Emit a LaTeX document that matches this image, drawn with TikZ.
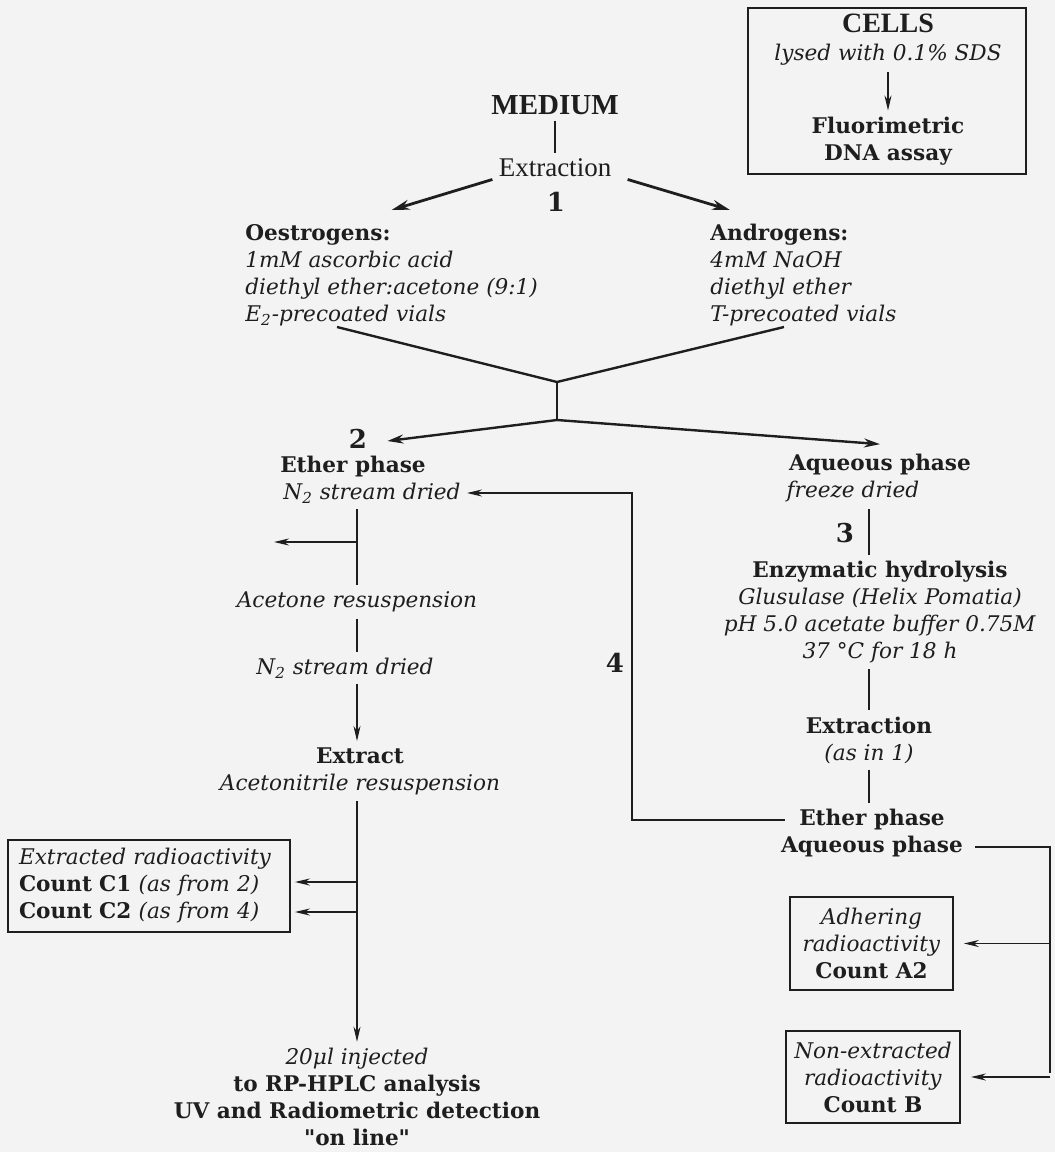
\documentclass[tikz,border=0pt]{standalone}
\usepackage{fontspec}
\setmainfont{DejaVu Serif}
\newfontfamily\timesfont{Liberation Serif}
\usetikzlibrary{arrows.meta,calc,positioning}
\definecolor{Paper}{HTML}{F3F3F3}
\definecolor{Ink}{HTML}{1E1E1E}
\newcommand\bodysize{\fontsize{10.8}{13.5}\selectfont}

\begin{document}
\begin{tikzpicture}[x=0.5pt,y=-0.5pt,
      every node/.style={font=\bodysize,text=Ink,inner sep=1pt},
      head/.style={font=\bodysize\bfseries},
      note/.style={font=\bodysize\itshape},
      stepnum/.style={font=\fontsize{13}{15}\selectfont\bfseries},
      box/.style={draw=Ink,line width=0.9pt,align=center,inner sep=1pt},
      link/.style={draw=Ink,line width=0.9pt,shorten <=2pt,shorten >=2pt},
      >={Stealth[length=7.5pt,width=3.5pt]}
    ]
      \fill[Paper] (0,0) rectangle (1055,1152);
      \useasboundingbox (0,0) rectangle (1055,1152);

      \node[box,minimum width=139pt,minimum height=83pt] (cellsbox) at (887,91) {};
      \node[font=\timesfont\bfseries\fontsize{14}{16}\selectfont] (cells) at (888,23) {CELLS};
      \node[note] (lysed) at (888,55) {lysed with 0.1\% SDS};
      \node[head,align=center] (fluor) at (888,141) {Fluorimetric\\DNA assay};
      \draw[link,->] (lysed.south) -- (fluor.north);

      \node[font=\timesfont\bfseries\fontsize{14.5}{16}\selectfont] (medium) at (555,105) {MEDIUM};
      \node[font=\timesfont\fontsize{13.5}{16}\selectfont] (extrA) at (555,168) {Extraction};
      \node[stepnum] (one) at (556,202) {1};
      \draw[link] (medium) -- (extrA);

      \node[align=left,anchor=north west] (oestro) at (243,222)
        {\textbf{Oestrogens:}\\\textit{1mM ascorbic acid}\\
         \textit{diethyl ether:acetone (9:1)}\\\textit{E\textsubscript{2}-precoated vials}};
      \node[align=left,anchor=north west] (andro) at (708,222)
        {\textbf{Androgens:}\\\textit{4mM NaOH}\\
         \textit{diethyl ether}\\\textit{T-precoated vials}};
      \draw[->,line width=1.4pt,Ink,>={Stealth[length=9pt,width=5pt]}]
        ([xshift=-2pt]extrA.south west) -- ([yshift=6pt]oestro.north);
      \draw[->,line width=1.4pt,Ink,>={Stealth[length=9pt,width=5pt]}]
        ([xshift=7pt]extrA.south east) -- ([xshift=11pt,yshift=6pt]andro.north west);

      \coordinate (yl) at (337,327);
      \coordinate (yr) at (784,327);
      \coordinate (junc) at (557,382);
      \coordinate (split) at (557,420);
      \draw[line width=1.2pt,Ink] (yl) -- (junc) -- (yr);
      \draw[line width=1.2pt,Ink] (junc) -- (split);

      \node[stepnum] (two) at (358,439) {2};
      \node[head] (eth1) at (353,467) {Ether phase};
      \node[note] (n2a) at (372,493) {N\textsubscript{2} stream dried};
      \node[head] (aq1) at (880,465) {Aqueous phase};
      \node[note] (freeze) at (853,492) {freeze dried};
      \draw[->,line width=1.2pt,Ink,>={Stealth[length=8pt,width=4.5pt]}]
        (split) -- ([xshift=9pt,yshift=-1pt]two.east);
      \draw[->,line width=1.2pt,Ink,>={Stealth[length=8pt,width=4.5pt]}]
        (split) -- ([yshift=4pt]aq1.north);

      \node[note] (acet) at (357,602) {Acetone resuspension};
      \node[note] (n2b) at (345,668) {N\textsubscript{2} stream dried};
      \node[align=center] (extract) at (360,771)
        {\textbf{Extract}\\\textit{Acetonitrile resuspension}};
      \node[align=center] (inject) at (357,1097)
        {\textit{20μl injected}\\\textbf{to RP-HPLC analysis}\\
         \textbf{UV and Radiometric detection}\\\textbf{\textquotedbl on line\textquotedbl}};
      \node[box,align=left,text width=130pt,inner xsep=5.5pt,
            minimum height=46pt] (counts) at (149,886)
        {\textit{Extracted radioactivity}\\\textbf{Count C1} \textit{(as from 2)}\\
         \textbf{Count C2} \textit{(as from 4)}};

      \coordinate (lost) at (270,542);
      \draw[link] (n2a.south -| acet) -- (acet.north);
      \draw[link,->,shorten <=0pt] (lost -| acet) -- (lost);
      \draw[link] (acet.south) -- (n2b.north -| acet);
      \draw[link,->] (n2b.south -| acet) -- (extract.north -| acet);
      \draw[link,->] (extract.south -| acet) -- (inject.north -| acet);
      \foreach \yy in {882,912}
        \draw[link,->,shorten <=0pt] (acet |- 0,\yy) -- (counts.east |- 0,\yy);

      \node[align=center] (enzy) at (880,612)
        {\textbf{Enzymatic hydrolysis}\\\textit{Glusulase (Helix Pomatia)}\\
         \textit{pH 5.0 acetate buffer 0.75M}\\\textit{37 °C for 18 h}};
      \node[align=center] (extrB) at (869,740) {\textbf{Extraction}\\\textit{(as in 1)}};
      \node[stepnum] (three) at (845,533) {3};
      \node[head] (eth2) at (872,820) {Ether phase};
      \node[head] (aq2) at (872,847) {Aqueous phase};
      \node[stepnum] (four) at (615,663) {4};
      \draw[link] (freeze.south -| extrB) -- (enzy.north -| extrB);
      \draw[link] (enzy.south -| extrB) -- (extrB.north);
      \draw[link] (extrB.south) -- (eth2.north -| extrB);

      \coordinate (ret) at (632,0);
      \draw[link,->] ([xshift=-4pt]eth2.west) -- (eth2.west -| ret) |- (n2a.east);

      \node[box,minimum width=81.5pt,minimum height=46.5pt] (adh) at (871.5,943.5)
        {\textit{Adhering}\\\textit{radioactivity}\\\textbf{Count A2}};
      \node[box,minimum width=87pt,minimum height=46pt] (cntB) at (873,1077)
        {\textit{Non-extracted}\\\textit{radioactivity}\\\textbf{Count B}};

      \coordinate (rgt) at (1050,0);
      \draw[link] ([xshift=3pt]aq2.east) -| (rgt |- cntB.east);
      \foreach \bx in {adh,cntB}
        \draw[link,->,shorten <=0pt] (rgt |- \bx.east) -- ([xshift=3pt]\bx.east);
    \end{tikzpicture}
\end{document}
